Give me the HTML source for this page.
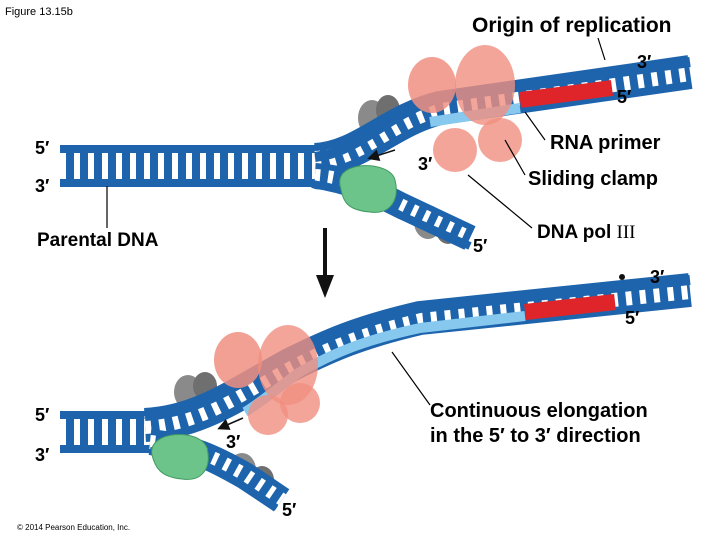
<!DOCTYPE html>
<html><head><meta charset="utf-8"><style>
html,body{margin:0;padding:0;background:#fff;}
svg{display:block;font-family:"Liberation Sans",Arial,sans-serif;}
.b{font-weight:bold;}
</style></head><body>
<svg width="720" height="540" viewBox="0 0 720 540">
<defs>
<marker id="ah" markerWidth="8" markerHeight="8" refX="6" refY="4" orient="auto"><path d="M0,0 L8,4 L0,8 z" fill="#111"/></marker>
</defs>
<text x="5" y="15" font-size="11">Figure 13.15b</text>
<text x="472" y="32" font-size="21" class="b">Origin of replication</text>
<line x1="598" y1="38" x2="605" y2="60" stroke="#000" stroke-width="1.2"/>

<ellipse cx="372" cy="118" rx="14" ry="18" fill="#8a8a8a"/>
<ellipse cx="388" cy="110" rx="12" ry="15" fill="#6f6f6f"/>
<ellipse cx="428" cy="222" rx="14" ry="17" fill="#8a8a8a"/>
<ellipse cx="448" cy="230" rx="12" ry="14" fill="#6f6f6f"/>
<path d="M60,166 L320,166" stroke="#1d64ad" stroke-width="42" fill="none"/>
<path d="M60,166 L320,166" stroke="#fff" stroke-width="26" stroke-dasharray="6 8" fill="none"/>
<path d="M315,160 C360,158 390,120 440,108 L690,72" stroke="#1d64ad" stroke-width="34" fill="none"/>
<path d="M315,160 C360,158 390,120 440,108 L690,72" stroke="#fff" stroke-width="18" stroke-dasharray="6 8" fill="none"/>
<path d="M430,122 L520,108" stroke="#86c8ee" stroke-width="10" fill="none"/>
<path d="M520,100 L612,88" stroke="#e0252a" stroke-width="16" fill="none"/>
<path d="M315,157 C360,152 390,112 440,98 L690,62" stroke="#1d64ad" stroke-width="10" fill="none"/>
<path d="M315,176 C350,178 370,190 400,205 L470,238" stroke="#1d64ad" stroke-width="26" fill="none"/>
<path d="M315,176 C350,178 370,190 400,205 L470,238" stroke="#fff" stroke-width="14" stroke-dasharray="5 8" fill="none"/>
<path d="M312,184 C350,190 370,200 400,215 L470,246" stroke="#1d64ad" stroke-width="8" fill="none"/>
<ellipse cx="432" cy="85" rx="24" ry="28" fill="#f08f80" opacity="0.85"/>
<ellipse cx="485" cy="85" rx="30" ry="40" fill="#f08f80" opacity="0.8"/>
<ellipse cx="455" cy="150" rx="22" ry="22" fill="#f08f80" opacity="0.8"/>
<ellipse cx="500" cy="140" rx="22" ry="22" fill="#f08f80" opacity="0.8"/>
<path d="M340,185 C335,160 390,160 395,180 C400,200 390,215 370,212 C345,210 343,200 340,185z" fill="#6cc48a" stroke="#3f9a60"/>
<line x1="395" y1="150" x2="370" y2="158" stroke="#111" stroke-width="1.5" marker-end="url(#ah)"/>
<text x="637" y="68" font-size="18" class="b">3′</text>
<text x="617" y="103" font-size="18" class="b">5′</text>
<text x="35" y="154" font-size="18" class="b">5′</text>
<text x="35" y="192" font-size="18" class="b">3′</text>
<text x="418" y="170" font-size="18" class="b">3′</text>
<text x="473" y="252" font-size="18" class="b">5′</text>
<text x="550" y="149" font-size="20" class="b">RNA primer</text>
<text x="528" y="185" font-size="20" class="b">Sliding clamp</text>
<text x="537" y="238" font-size="19" class="b">DNA pol <tspan font-family="Liberation Serif" font-weight="normal">III</tspan></text>
<line x1="545" y1="140" x2="525" y2="112" stroke="#000" stroke-width="1.2"/>
<line x1="525" y1="175" x2="505" y2="140" stroke="#000" stroke-width="1.2"/>
<line x1="532" y1="228" x2="468" y2="175" stroke="#000" stroke-width="1.2"/>
<text x="37" y="246" font-size="19" class="b">Parental DNA</text>
<line x1="107" y1="228" x2="107" y2="186" stroke="#000" stroke-width="1.2"/>
<line x1="325" y1="228" x2="325" y2="280" stroke="#111" stroke-width="4"/>
<path d="M316,275 L334,275 L325,298 z" fill="#111"/>

<ellipse cx="188" cy="392" rx="14" ry="17" fill="#8a8a8a"/>
<ellipse cx="205" cy="386" rx="12" ry="14" fill="#6f6f6f"/>
<ellipse cx="242" cy="470" rx="14" ry="17" fill="#8a8a8a"/>
<ellipse cx="262" cy="480" rx="12" ry="14" fill="#6f6f6f"/>
<path d="M60,432 L155,432" stroke="#1d64ad" stroke-width="42" fill="none"/>
<path d="M60,432 L155,432" stroke="#fff" stroke-width="26" stroke-dasharray="6 8" fill="none"/>
<path d="M145,425 C200,422 235,395 290,365 C330,345 360,332 420,318 L690,290" stroke="#1d64ad" stroke-width="34" fill="none"/>
<path d="M145,425 C200,422 235,395 290,365 C330,345 360,332 420,318 L690,290" stroke="#fff" stroke-width="18" stroke-dasharray="6 8" fill="none"/>
<path d="M245,412 C265,400 290,378 300,372 C335,352 365,340 420,328 L525,316" stroke="#86c8ee" stroke-width="10" fill="none"/>
<path d="M525,312 L615,302" stroke="#e0252a" stroke-width="16" fill="none"/>
<path d="M145,416 C200,412 235,385 290,355 C330,335 360,322 420,308 L690,280" stroke="#1d64ad" stroke-width="10" fill="none"/>
<path d="M150,442 C190,446 215,458 245,475 L282,500" stroke="#1d64ad" stroke-width="26" fill="none"/>
<path d="M150,442 C190,446 215,458 245,475 L282,500" stroke="#fff" stroke-width="14" stroke-dasharray="5 8" fill="none"/>
<path d="M150,451 C190,456 212,468 240,484 L276,508" stroke="#1d64ad" stroke-width="8" fill="none"/>
<ellipse cx="238" cy="360" rx="24" ry="28" fill="#f08f80" opacity="0.85"/>
<ellipse cx="288" cy="365" rx="30" ry="40" fill="#f08f80" opacity="0.8"/>
<ellipse cx="268" cy="415" rx="20" ry="20" fill="#f08f80" opacity="0.8"/>
<ellipse cx="300" cy="403" rx="20" ry="20" fill="#f08f80" opacity="0.8"/>
<path d="M152,455 C147,430 200,428 207,448 C212,468 202,482 182,479 C160,477 155,467 152,455z" fill="#6cc48a" stroke="#3f9a60"/>
<line x1="243" y1="418" x2="220" y2="428" stroke="#111" stroke-width="1.5" marker-end="url(#ah)"/>
<circle cx="622" cy="277" r="3" fill="#111"/>
<text x="650" y="283" font-size="18" class="b">3′</text>
<text x="625" y="324" font-size="18" class="b">5′</text>
<text x="35" y="421" font-size="18" class="b">5′</text>
<text x="35" y="461" font-size="18" class="b">3′</text>
<text x="226" y="448" font-size="18" class="b">3′</text>
<text x="282" y="516" font-size="18" class="b">5′</text>
<text x="430" y="417" font-size="20" class="b">Continuous elongation</text>
<text x="430" y="442" font-size="20" class="b">in the 5′ to 3′ direction</text>
<line x1="430" y1="405" x2="392" y2="352" stroke="#000" stroke-width="1.2"/>
<text x="17" y="530" font-size="8">© 2014 Pearson Education, Inc.</text>
</svg>
</body></html>
